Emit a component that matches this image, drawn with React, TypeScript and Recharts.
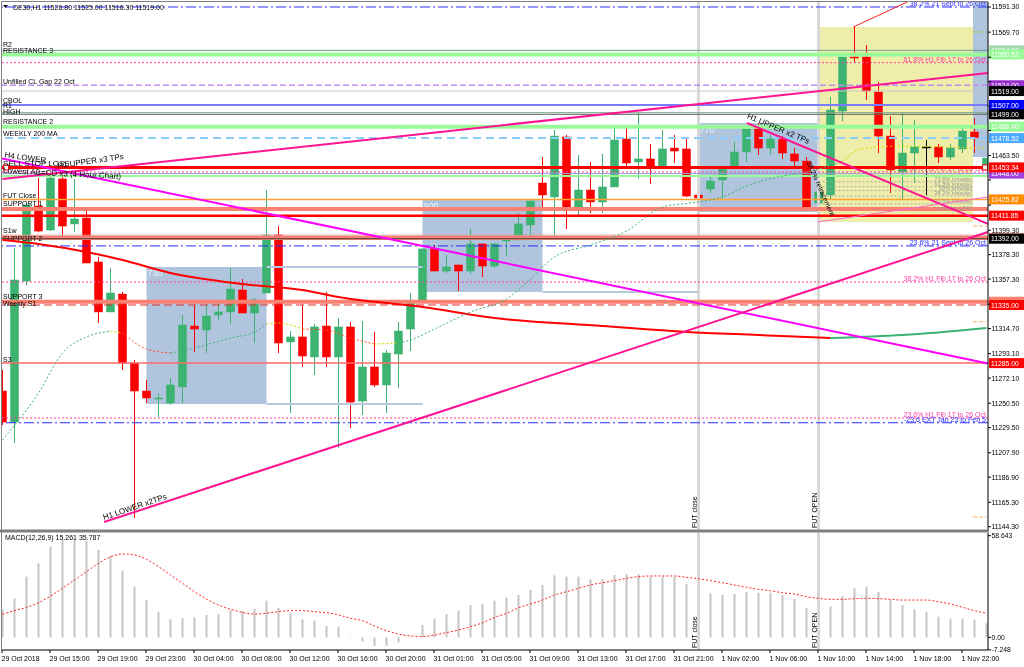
import React from 'react';
import { ComposedChart, Bar, Line, XAxis, YAxis, ReferenceLine, ReferenceArea, ReferenceDot } from 'recharts';

const FONT = '"Liberation Sans", Arial, Helvetica, sans-serif';

// ---------------- data ----------------
const timeLabels = ['29 Oct 2018', '29 Oct 15:00', '29 Oct 19:00', '29 Oct 23:00', '30 Oct 04:00', '30 Oct 08:00', '30 Oct 12:00', '30 Oct 16:00', '30 Oct 20:00', '31 Oct 01:00', '31 Oct 05:00', '31 Oct 09:00', '31 Oct 13:00', '31 Oct 17:00', '31 Oct 21:00', '1 Nov 02:00', '1 Nov 06:00', '1 Nov 10:00', '1 Nov 14:00', '1 Nov 18:00', '1 Nov 22:00'];
const tickIndex = [0, 4, 8, 12, 16, 20, 24, 28, 32, 36, 40, 44, 48, 52, 56, 60, 64, 68, 72, 76, 80];

const opens = [
  11261.0, 11234.3, 11355.6, 11420.1, 11399.5, 11443.4, 11404.7, 11409.8, 11372.0, 11329.0,
  11344.4, 11285.1, 11261.0, 11254.1, 11250.7, 11264.5, 11316.9, 11313.5, 11326.4, 11329.0,
  11347.9, 11328.1, 11345.3, 11395.2, 11303.2, 11307.5, 11290.3, 11316.9, 11290.3, 11316.1,
  11252.4, 11281.7, 11266.2, 11292.8, 11314.3, 11337.6, 11383.2, 11364.2, 11369.4, 11364.2,
  11387.5, 11368.5, 11390.0, 11390.9, 11403.8, 11439.9, 11427.9, 11479.5, 11416.7, 11433.9,
  11423.6, 11436.5, 11477.8, 11458.0, 11460.6, 11454.5, 11470.0, 11469.2, 11429.6, 11434.8,
  11442.5, 11452.8, 11466.6, 11486.4, 11470.0, 11477.8, 11464.9, 11458.8, 11422.7, 11429.6,
  11501.8, 11548.3, 11548.3, 11518.2, 11480.3, 11449.4, 11465.7, 11470.9, 11470.9, 11462.3,
  11469.2, 11483.8, 11453.7,
];
const highs = [
  11279.1, 11384.0, 11422.0, 11444.2, 11446.8, 11446.8, 11443.4, 11416.7, 11376.3, 11366.8,
  11346.2, 11287.7, 11270.5, 11259.3, 11272.2, 11326.4, 11335.0, 11335.0, 11336.7, 11366.8,
  11357.3, 11341.0, 11433.9, 11402.9, 11312.6, 11335.0, 11318.6, 11346.2, 11323.8, 11320.4,
  11321.2, 11311.8, 11296.3, 11320.4, 11345.3, 11383.2, 11386.6, 11378.0, 11369.4, 11400.4,
  11387.5, 11388.3, 11391.8, 11414.1, 11424.4, 11462.3, 11485.5, 11481.2, 11464.0, 11458.0,
  11464.9, 11487.2, 11487.2, 11500.1, 11473.5, 11485.5, 11481.2, 11479.5, 11439.1, 11445.1,
  11452.8, 11475.2, 11486.4, 11491.5, 11481.2, 11480.3, 11470.0, 11462.3, 11436.5, 11513.9,
  11548.3, 11574.1, 11558.6, 11526.8, 11497.5, 11500.1, 11494.1, 11476.9, 11473.5, 11473.5,
  11487.2, 11495.8, 11461.4,
];
const lows = [
  11231.8, 11216.3, 11352.2, 11397.5, 11398.6, 11390.9, 11397.8, 11371.1, 11319.5, 11329.0,
  11279.1, 11151.8, 11250.7, 11238.6, 11249.0, 11250.7, 11294.6, 11293.7, 11322.1, 11318.6,
  11328.1, 11302.3, 11345.3, 11293.7, 11242.1, 11281.7, 11274.8, 11281.7, 11212.0, 11229.2,
  11240.4, 11264.5, 11242.1, 11263.6, 11295.4, 11336.7, 11364.2, 11362.5, 11347.0, 11361.6,
  11359.1, 11366.8, 11377.1, 11390.9, 11393.5, 11416.7, 11391.8, 11400.4, 11412.4, 11414.1,
  11414.1, 11436.5, 11453.7, 11443.4, 11439.1, 11452.8, 11457.1, 11427.9, 11427.0, 11431.3,
  11427.0, 11452.8, 11458.0, 11464.0, 11464.0, 11460.6, 11453.7, 11415.8, 11418.4, 11425.3,
  11493.2, 11543.1, 11511.3, 11465.7, 11431.3, 11425.3, 11439.9, 11429.6, 11457.1, 11459.7,
  11465.7, 11465.7, 11453.7,
];
const closes = [
  11234.3, 11356.5, 11421.0, 11398.6, 11444.2, 11402.9, 11409.0, 11371.1, 11329.0, 11345.3,
  11285.1, 11261.0, 11255.0, 11255.0, 11266.2, 11317.8, 11314.3, 11325.5, 11329.0, 11348.7,
  11328.1, 11339.3, 11395.2, 11302.3, 11307.5, 11291.1, 11316.1, 11290.3, 11316.1, 11251.5,
  11281.7, 11266.2, 11293.7, 11312.6, 11336.7, 11383.2, 11364.2, 11367.7, 11364.2, 11387.5,
  11368.5, 11387.5, 11391.8, 11404.7, 11424.4, 11429.6, 11480.3, 11416.7, 11433.9, 11423.6,
  11436.5, 11476.9, 11457.1, 11460.6, 11453.7, 11469.2, 11467.4, 11428.7, 11427.0, 11441.6,
  11452.8, 11466.6, 11486.4, 11470.0, 11477.8, 11465.7, 11458.8, 11416.7, 11432.2, 11502.7,
  11548.3, 11547.4, 11519.0, 11480.3, 11451.1, 11465.7, 11470.9, 11470.9, 11462.3, 11470.0,
  11484.6, 11479.0, 11461.4,
];

// moving averages read at points along the curves (bar index, price)
const slowMaIdx = [0, 3, 7, 10, 14, 20, 25, 28, 35, 41, 50, 57, 63, 69, 75, 82];
const slowMaVal = [11390.9, 11387.5, 11380.6, 11373.7, 11362.5, 11353.0, 11347.9, 11341.9, 11333.3, 11323.8, 11316.9, 11311.8, 11309.2, 11306.6, 11309.2, 11315.2];
const fastMaIdx = [0, 3, 5, 7, 9, 10, 12, 14, 16, 19, 21, 22, 23, 25, 27, 29, 31, 33, 34, 36, 39, 42, 44, 46, 49, 52, 55, 58, 60, 62, 65, 67, 70, 71, 72, 75, 78, 82];
const fastMaVal = [11218.9, 11259.3, 11293.7, 11307.5, 11312.6, 11310.9, 11297.1, 11293.7, 11298.0, 11306.6, 11311.8, 11318.6, 11319.5, 11314.3, 11313.5, 11306.6, 11301.4, 11302.3, 11304.9, 11314.3, 11329.0, 11340.1, 11357.3, 11376.3, 11386.6, 11398.6, 11419.3, 11423.6, 11427.9, 11437.3, 11445.9, 11449.4, 11458.0, 11466.6, 11470.0, 11471.7, 11470.9, 11470.0];

const macdHist = [
  16, 22.5, 35.0, 42.7, 52.3, 56.2, 56.2, 55.8, 50.4, 46.9,
  38.4, 29.2, 21.5, 14.8, 10.4, 11.1, 11.5, 12.9, 13.4, 15.8,
  15.4, 16.3, 21.1, 17.1, 14.2, 10.4, 9.6, 6.5, 6.1, 0.3,
  -2.5, -5.0, -5.0, -3.1, 0.3, 7.1, 10.7, 13.4, 15.4, 18.6,
  19.2, 21.1, 22.8, 24.4, 27.3, 30.2, 35.8, 35.0, 35.0, 33.5,
  33.5, 36.0, 36.5, 36.5, 35.0, 35.0, 35.0, 30.8, 27.7, 25.4,
  24.4, 25.0, 26.3, 25.7, 25.7, 24.4, 22.1, 17.1, 14.2, 17.7,
  23.8, 28.3, 29.2, 26.3, 21.5, 18.6, 16.2, 14.8, 11.9, 10.7,
  10.7, 10.2, 8.1,
];
const macdSignal = [
  13.3, 15.4, 17.3, 20.0, 23.8, 28.3, 33.1, 37.9, 42.7, 46.5,
  48.1, 47.5, 45.0, 40.8, 36.0, 31.2, 26.3, 22.1, 18.6, 16.2,
  14.4, 13.4, 13.9, 14.8, 15.4, 15.4, 14.8, 14.2, 12.9, 11.0,
  9.6, 6.5, 3.8, 1.9, 0.8, 0.4, 1.3, 2.7, 4.2, 6.1,
  8.4, 11.5, 13.8, 17.0, 19.2, 21.5, 24.4, 26.3, 28.3, 30.2,
  31.5, 32.7, 34.0, 35.0, 35.4, 35.4, 35.4, 34.6, 33.8, 32.7,
  31.5, 30.2, 28.9, 27.7, 26.9, 25.7, 25.0, 23.4, 22.5, 21.9,
  21.9, 22.3, 22.5, 22.3, 21.9, 21.5, 21.5, 21.5, 20.5, 19.2,
  17.3, 15.4, 13.9,
];

const priceTicks = [11591.3, 11569.7, 11548.1, 11527.1, 11506.1, 11485.1, 11463.5, 11442.5, 11420.9, 11399.3, 11378.3, 11357.3, 11335.7, 11314.7, 11293.1, 11272.1, 11250.5, 11229.5, 11207.9, 11186.9, 11165.3, 11144.3];
const macdTicks = [58.643, 0, -7.248];
const macdTickText = ['58.643', '0.00', '-7.248'];

// horizontal levels
const levelPrices = [11591.3, 11554.0, 11550.52, 11543.4, 11524.0, 11519.0, 11507.0, 11500.4, 11499.0, 11488.4, 11478.52, 11449.4, 11448.0, 11445.9, 11453.34, 11425.82, 11417.6, 11411.85, 11395.0, 11392.6, 11392.0, 11385.8, 11354.8, 11337.8, 11335.0, 11285.0, 11237.8, 11233.7];
const levelNames = ['', 'R2', 'RESISTANCE 3', '', 'Unfilled CL Gap 22 Oct', '', 'CBOL', 'R1', 'HIGH', 'RESISTANCE 2', 'WEEKLY 200 MA', '', '', '', '', 'FUT Close', 'SUPPORT 1', '', 'S1w', 'SUPPORT 2', '', '', '', 'SUPPORT 3', 'Weekly S1', 'S3', '', ''];
const levelNotes = ['38.2%   21 Sept to 26 Oct', '', '', '61.8%   H1 Fib 17 to 26 Oct', '', '', '', '', '', '', '', '50%   H1 Fib 17 to 26 Oct', '', '', '', '', '', '', '', '', '', '23.6%   21 Sept to 26 Oct', '38.2%   H1 Fib 17 to 26 Oct', '', '', '', '23.6%   H1 Fib 17 to 26 Oct', '-23.6 EXT Jan 23 to Feb 5'];

const intradayPrices = [11441.0, 11436.7, 11433.3, 11428.7, 11421.9, 11416.0];
const intradayNames = ['73.6% Intraday', '61.8% Intraday', '50% Intraday', '38.2% Intraday', '23.6% Intraday', 'Intraday LOW'];

const boxes = [
  { x1: 12, x2: 22, y1: 11249.8, y2: 11367.7, label: '730' },
  { x1: 35, x2: 45, y1: 11346.2, y2: 11425.3, label: '900' },
  { x1: 58, x2: 68, y1: 11415.0, y2: 11491.5, label: '770' },
];
const sessionBox = { x1: 68, x2: 80.875, y1: 11406.4, y2: 11574.1 };
const nextBox = { x1: 80.875, x2: 82.125, y1: 11462.3, y2: 11595.6 };
const boxExtensions = [
  [[22, 11367.7], [35, 11367.7]],
  [[22, 11249.8], [35, 11249.8]],
  [[45, 11346.2], [58, 11346.2]],
];
const trendLines = [
  [[-0.04, 11461.0], [82.125, 11284.7]],
  [[8.46, 11148.3], [82.125, 11397.8]],
  [[0, 11443.4], [82.125, 11534.5]],
  [[62.04, 11491.5], [82.125, 11404.7]],
  [[67.96, 11406.4], [82.125, 11427.9]],
  [[70.9, 11574.1], [75.4, 11595.6]],
];
const projectionMarks = [11569.8, 11402.9, 11320.6, 11152.6];
const futLines = [{ k: 58, text: 'FUT close' }, { k: 68, text: 'FUT OPEN' }];
const notes = [
  { x: 8.46, y: 11150.0, text: 'H1 LOWER x2TPs', angle: -18.6 },
  { x: 62.0, y: 11495.8, text: 'H1 UPPER x2 TPs', angle: 22.8 },
  { x: 4.6, y: 11452.5, text: 'H1 UPPER x3 TPs', angle: -8 },
  { x: 0.15, y: 11462.0, text: 'H4 LOWER', angle: 8 },
  { x: 0.05, y: 11454.5, text: 'SELL STOP LOSS', angle: 0 },
  { x: 0.05, y: 11448.5, text: 'Lowest AB=CD x3 (4 Hour Chart)', angle: 3 },
  { x: 67.0, y: 11457.5, text: '38.2% retracement', angle: 66 },
];

// ---------------- styles ----------------
const levelStyles: any[] = [
  { c: '#2b2bff', w: 1, d: '10 3 2 3', nc: '#2b2bff' },
  { c: '#6f9f86', w: 1, tag: '#a8d8b0', lo: -3.5 },
  { c: '#98fb98', w: 4, tag: '#98fb98', lo: -1.2 },
  { c: '#ff40a0', w: 1, d: '2 2', nc: '#ff40a0' },
  { c: '#c08ef0', w: 1.5, d: '6 3', tag: '#9932cc' },
  { c: '#c8c8c8', w: 1, tag: '#000000' },
  { c: '#7b7bff', w: 2, tag: '#0000ff' },
  { c: '#78a888', w: 1, lo: -4.6 },
  { c: '#606060', w: 1, tag: '#000000', lo: -0.2 },
  { c: '#98fb98', w: 4, tag: '#98fb98' },
  { c: '#87cefa', w: 2, d: '8 5', tag: '#4aa8ff' },
  { c: '#ff40a0', w: 1, d: '2 2', nc: '#ff40a0' },
  { c: '#9a9ad8', w: 1, tag: '#a040e0' },
  { c: '#98fb98', w: 2 },
  { c: '#ff0000', w: 3, tag: '#ff0000', mark: true },
  { c: '#ffa030', w: 1.5, tag: '#ff8c00' },
  { c: '#fa8072', w: 4 },
  { c: '#ff0000', w: 2.5, tag: '#ff0000' },
  { c: '#e89090', w: 1, lo: -2.5 },
  { c: '#fa8072', w: 4, tag: '#fa8072', blank: true, lo: 2.5 },
  { c: '#404040', w: 1, tag: '#000000' },
  { c: '#2b2bff', w: 1, d: '10 3 2 3', nc: '#2b2bff' },
  { c: '#ff40a0', w: 1, d: '2 2', nc: '#ff40a0' },
  { c: '#fa8072', w: 4, tag: '#fa8072', blank: true, lo: -2.5 },
  { c: '#e03030', w: 1, d: '8 4', tag: '#ff0000', lo: 1.5 },
  { c: '#ff6a6a', w: 1.5, tag: '#ff0000' },
  { c: '#ff40a0', w: 1, d: '2 2', nc: '#ff40a0' },
  { c: '#2b2bff', w: 1, d: '10 3 2 3', nc: '#2b2bff' },
];
const trendStyles = [
  { c: '#ff00ff', w: 2 },
  { c: '#ff1493', w: 2 },
  { c: '#ff1493', w: 2 },
  { c: '#ff1493', w: 2 },
  { c: '#ff66cc', w: 1 },
  { c: '#ff2020', w: 1 },
];
const projStyles = ['#9acd32', '#ffb060', '#ffb060', '#ffb060'];
const GREEN = '#3cb371';
const slowSegs: [number, number, string][] = [[0, 69, '#ff0000'], [69, 82, GREEN]];
const fastSegs: [number, number, string][] = [
  [0, 9, '#3cb371'], [9, 10, '#d8d800'], [10, 14, '#ff5020'], [14, 22, '#3cb371'], [22, 25, '#d8d800'],
  [25, 31, '#ff5020'], [31, 33, '#d8d800'], [33, 70, '#3cb371'], [70, 82, '#d8d800'],
];

// tagged prices: axis labels lying under a price tag stay covered (as in the reference)
const taggedPrices = levelPrices.filter((_, i) => levelStyles[i].tag);
const PX_PER_POINT = 528 / (11595.6 - 11141.46);

// ---------------- table ----------------
const slowMap = new Map<number, number>(slowMaIdx.map((k, i) => [k, slowMaVal[i]]));
const fastMap = new Map<number, number>(fastMaIdx.map((k, i) => [k, fastMaVal[i]]));
const rows = opens.map((o, k) => {
  const r: any = {
    k, open: o, high: highs[k], low: lows[k], close: closes[k],
    range: [lows[k], highs[k]], hist: macdHist[k], signal: macdSignal[k],
  };
  slowSegs.forEach(([a, b], i) => { r['s' + i] = k >= a && k <= b && slowMap.has(k) ? slowMap.get(k) : null; });
  fastSegs.forEach(([a, b], i) => { r['f' + i] = k >= a && k <= b && fastMap.has(k) ? fastMap.get(k) : null; });
  return r;
});

const X_DOMAIN: [number, number] = [-0.0417, 82.125];
const Y_DOMAIN: [number, number] = [11141.46, 11595.6];
const M_DOMAIN: [number, number] = [-7.33, 60.2];

// ---------------- renderers ----------------
const Candle = (p: any) => {
  const { x, y, width, height, payload } = p;
  if (x == null || y == null || !payload) return null;
  const top = Math.min(y, y + height);
  const bot = Math.max(y, y + height);
  const { open, high, low, close } = payload;
  const span = high - low || 1;
  const py = (v: number) => top + ((high - v) / span) * (bot - top);
  const cx = x + width / 2;
  const color = close > open ? GREEN : close < open ? '#ff0000' : '#000000';
  const yo = py(open);
  const yc = py(close);
  const bt = Math.min(yo, yc);
  const bh = Math.max(1, Math.abs(yc - yo));
  return (
    <g>
      <line x1={cx} x2={cx} y1={top} y2={bot} stroke={color} strokeWidth={1} />
      <rect x={x} y={bt} width={width} height={bh} fill={color} stroke={color} strokeWidth={0.5} />
    </g>
  );
};

const LevelLabel = (props: any) => {
  const vb = props.viewBox;
  if (!vb) return null;
  const i = props.i;
  const st = levelStyles[i];
  const y = vb.y;
  const xl = vb.x;
  const xr = vb.x + vb.width;
  const ly = st.lo != null ? y + st.lo : y - (st.w / 2 + 0.8);
  return (
    <g>
      {levelNames[i] ? (
        <text x={xl + 1} y={ly} fontSize={7} fill="#000" fontFamily={FONT}>{levelNames[i]}</text>
      ) : null}
      {levelNotes[i] ? (
        <text x={xr - 2} y={y - 1} textAnchor="end" fontSize={7} fill={st.nc} fontFamily={FONT}>{levelNotes[i]}</text>
      ) : null}
      {st.mark ? (
        <g>
          <rect x={xl + 1.5} y={y - 2.5} width={5} height={5} fill="#fff" stroke="#ff0000" strokeWidth={1} />
          <rect x={xr - 5.5} y={y - 2.5} width={5} height={5} fill="#fff" stroke="#ff0000" strokeWidth={1} />
        </g>
      ) : null}
      {st.tag ? (
        <g>
          <rect x={xr + 1} y={y - 5} width={36} height={10} fill={st.tag} />
          {st.blank ? null : (
            <text x={xr + 3} y={y + 2.6} fontSize={6.8} fill="#fff" fontFamily={FONT}>{levelPrices[i].toFixed(2)}</text>
          )}
        </g>
      ) : null}
    </g>
  );
};

const IntraLabel = (props: any) => {
  const vb = props.viewBox;
  if (!vb) return null;
  return (
    <text x={vb.x + vb.width - 1} y={vb.y - 1} textAnchor="end" fontSize={5.6} fill="#9a9a9a" fontFamily={FONT}>{props.text}</text>
  );
};

const BoxLabel = (props: any) => {
  const vb = props.viewBox;
  if (!vb) return null;
  return <text x={vb.x + 1} y={vb.y + 9.5} fontSize={9} fill="#eef3fb" fontFamily={FONT}>{props.text}</text>;
};

const FutLabel = (props: any) => {
  const vb = props.viewBox;
  if (!vb) return null;
  const x = vb.x - 2;
  const y = vb.y + vb.height - 2;
  return (
    <text x={x} y={y} transform={`rotate(-90 ${x} ${y})`} fontSize={7} fontFamily={FONT} fill="#000">{props.text}</text>
  );
};

const PriceTick = (p: any) => {
  const v = Number(p.payload.value);
  const covered = taggedPrices.some((t) => Math.abs(t - v) * PX_PER_POINT < 6.5);
  return (
    <g>
      <line x1={p.x} x2={p.x + 3} y1={p.y} y2={p.y} stroke="#000" />
      {covered ? null : (
        <text x={p.x + 3.5} y={p.y + 2.5} fontSize={6.8} fill="#000" fontFamily={FONT}>{v.toFixed(2)}</text>
      )}
    </g>
  );
};

const MacdTick = (p: any) => {
  const i = macdTicks.indexOf(p.payload.value);
  return (
    <g>
      <line x1={p.x} x2={p.x + 3} y1={p.y} y2={p.y} stroke="#000" />
      <text x={p.x + 3.5} y={p.y + 2.5} fontSize={6.8} fill="#000" fontFamily={FONT}>{i >= 0 ? macdTickText[i] : ''}</text>
    </g>
  );
};

const TimeTick = (p: any) => {
  const i = tickIndex.indexOf(p.payload.value);
  return (
    <g>
      <line x1={p.x - 0.5} x2={p.x - 0.5} y1={p.y} y2={p.y + 3} stroke="#000" />
      <text x={p.x - 1} y={p.y + 10.5} fontSize={7} fill="#000" fontFamily={FONT}>{i >= 0 ? timeLabels[i] : ''}</text>
    </g>
  );
};

const BlendRect = (fill: string) => (p: any) => (
  <rect x={p.x} y={p.y} width={p.width} height={p.height} fill={fill} style={{ mixBlendMode: 'multiply' }} />
);

const noteShape = (n: any) => (p: any) => (
  <text x={p.cx} y={p.cy} transform={`rotate(${n.angle} ${p.cx} ${p.cy})`} fontSize={n.angle === 66 ? 7 : 8} fill="#000" fontFamily={FONT}>{n.text}</text>
);

export default function App() {
  return (
    <div style={{ position: 'absolute', left: 0, top: 0, width: 1024, height: 667, background: '#fff', overflow: 'hidden', fontFamily: FONT }}>
      <div style={{ position: 'absolute', left: 0, top: 0 }}>
        <ComposedChart width={1024} height={532} data={rows} margin={{ top: 2, right: 0, bottom: 2, left: 2 }}>
          <XAxis dataKey="k" type="number" domain={X_DOMAIN} allowDataOverflow ticks={tickIndex} hide />
          <YAxis orientation="right" width={36} domain={Y_DOMAIN} allowDataOverflow ticks={priceTicks} interval={0}
            tick={<PriceTick />} tickLine={false} tickSize={0} tickMargin={0} axisLine={{ stroke: '#000' }} />

          {futLines.map((f) => (
            <ReferenceLine key={'fut' + f.k} x={f.k} stroke="#d8d8d8" strokeWidth={3} label={<FutLabel text={f.text} />} />
          ))}

          {levelPrices.map((p, i) => (
            <ReferenceLine key={'lv' + i} y={p} stroke={levelStyles[i].c} strokeWidth={levelStyles[i].w}
              strokeDasharray={levelStyles[i].d} label={<LevelLabel i={i} />} />
          ))}

          {intradayPrices.map((p, i) => (
            <ReferenceLine key={'in' + i} segment={[{ x: sessionBox.x1, y: p }, { x: sessionBox.x2, y: p }]}
              stroke={i < 5 ? '#a8a8a8' : 'none'} strokeWidth={1} strokeDasharray="2 2" label={<IntraLabel text={intradayNames[i]} />} />
          ))}

          {boxExtensions.map((s, i) => (
            <ReferenceLine key={'bx' + i} segment={[{ x: s[0][0], y: s[0][1] }, { x: s[1][0], y: s[1][1] }]} stroke="#b8c8de" strokeWidth={2} />
          ))}

          {projectionMarks.map((p, i) => (
            <ReferenceLine key={'pj' + i} segment={[{ x: 80.875, y: p }, { x: 82.0, y: p }]} stroke={projStyles[i]} strokeWidth={1} strokeDasharray="4 2" />
          ))}

          {slowSegs.map((s, i) => (
            <Line key={'s' + i} dataKey={'s' + i} type="monotone" connectNulls dot={false} activeDot={false}
              stroke={s[2]} strokeWidth={2} isAnimationActive={false} />
          ))}
          {fastSegs.map((s, i) => (
            <Line key={'f' + i} dataKey={'f' + i} type="monotone" connectNulls dot={false} activeDot={false}
              stroke={s[2]} strokeWidth={1} strokeDasharray="2 2" isAnimationActive={false} />
          ))}

          {trendLines.map((t, i) => (
            <ReferenceLine key={'tr' + i} segment={[{ x: t[0][0], y: t[0][1] }, { x: t[1][0], y: t[1][1] }]}
              stroke={trendStyles[i].c} strokeWidth={trendStyles[i].w} />
          ))}

          <ReferenceArea x1={sessionBox.x1} x2={sessionBox.x2} y1={sessionBox.y1} y2={sessionBox.y2} shape={BlendRect('#eeeeaa')} />
          <ReferenceArea x1={nextBox.x1} x2={nextBox.x2} y1={nextBox.y1} y2={nextBox.y2} shape={BlendRect('#b0c4de')} />
          {boxes.map((b, i) => (
            <ReferenceArea key={'box' + i} x1={b.x1} x2={b.x2} y1={b.y1} y2={b.y2} shape={BlendRect('#b0c4de')}
              label={<BoxLabel text={b.label} />} />
          ))}

          <Bar dataKey="range" barSize={8} shape={<Candle />} isAnimationActive={false} />

          {notes.map((n, i) => (
            <ReferenceDot key={'nt' + i} x={n.x} y={n.y} r={1} shape={noteShape(n)} />
          ))}
        </ComposedChart>
      </div>

      <div style={{ position: 'absolute', left: 0, top: 532 }}>
        <ComposedChart width={1024} height={135} data={rows} margin={{ top: 1, right: 0, bottom: 0, left: 2 }}>
          <XAxis dataKey="k" type="number" domain={X_DOMAIN} allowDataOverflow ticks={tickIndex} interval={0}
            height={17} tick={<TimeTick />} tickLine={false} tickSize={0} tickMargin={0} axisLine={{ stroke: '#000' }} />
          <YAxis orientation="right" width={36} domain={M_DOMAIN} allowDataOverflow ticks={macdTicks} interval={0}
            tick={<MacdTick />} tickLine={false} tickSize={0} tickMargin={0} axisLine={{ stroke: '#000' }} />
          {futLines.map((f) => (
            <ReferenceLine key={'mfut' + f.k} x={f.k} stroke="#d8d8d8" strokeWidth={3} label={<FutLabel text={f.text} />} />
          ))}
          <Bar dataKey="hist" barSize={2} fill="#c4c4c4" isAnimationActive={false} />
          <Line dataKey="signal" type="monotone" dot={false} activeDot={false} stroke="#ff2020" strokeWidth={1}
            strokeDasharray="2 2" isAnimationActive={false} />
        </ComposedChart>
      </div>

      <svg width={1024} height={667} style={{ position: 'absolute', left: 0, top: 0, pointerEvents: 'none' }}>
        <line x1={1.5} y1={1.5} x2={988} y2={1.5} stroke="#808080" />
        <line x1={1.5} y1={1.5} x2={1.5} y2={650} stroke="#808080" />
        <rect x={0} y={529.5} width={989} height={3} fill="#808080" />
        <path d="M3 5 L8 5 L5.5 8 Z" fill="#000" />
        <text x={13} y={10} fontSize={7} fill="#000" fontFamily={FONT}>DE30,H1  11526.80 11525.00 11516.30 11519.00</text>
        <text x={5} y={540} fontSize={7} fill="#000" fontFamily={FONT}>MACD(12,26,9) 15.261 35.787</text>
      </svg>
    </div>
  );
}
